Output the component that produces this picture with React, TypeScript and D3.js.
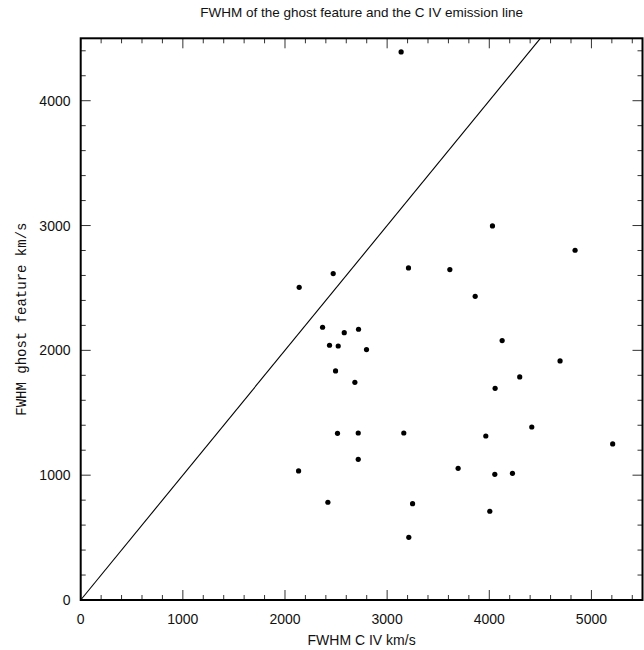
import React from "react";
import * as d3 from "d3";

const civFwhm = [3137, 4031, 4840, 3209, 3614, 2472, 2139, 3862, 2368, 2720, 2580, 4126, 2436, 2521, 2798, 4693, 2495, 4298, 2684, 4057, 4416, 2514, 2717, 3163, 3966, 5208, 2717, 3695, 2133, 4054, 4227, 2420, 3249, 4005, 3212];
const ghostFwhm = [4391, 2997, 2802, 2660, 2647, 2615, 2505, 2433, 2185, 2169, 2142, 2078, 2041, 2035, 2006, 1915, 1835, 1787, 1744, 1696, 1386, 1335, 1338, 1338, 1314, 1250, 1127, 1055, 1034, 1007, 1015, 783, 772, 711, 502];
const xMajorTicks = [0, 1000, 2000, 3000, 4000, 5000];
const yMajorTicks = [0, 1000, 2000, 3000, 4000];

const W = 644, H = 650;
const L = 80.7, R = 642.5, T = 38.3, B = 600;

export default function App() {
  const x = d3.scaleLinear().domain([0, 5500]).range([L, R]);
  const y = d3.scaleLinear().domain([0, 4500]).range([B, T]);
  const xMinor = d3.range(0, 5501, 200).filter((v) => v % 1000 !== 0);
  const yMinor = d3.range(0, 4501, 200).filter((v) => v % 1000 !== 0);
  const font = "'Liberation Sans', Arial, Helvetica, sans-serif";
  const diag = d3.line<number>().x((d) => x(d)).y((d) => y(d))([0, 4500]);
  return (
    <svg width={W} height={H} style={{ position: "absolute", left: 0, top: 0, background: "#fff" }}>
      <text x={(L + R) / 2} y={17} textAnchor="middle" fontFamily={font} fontSize={13.5} fill="#111">
        FWHM of the ghost feature and the C IV emission line
      </text>
      {/* ticks */}
      <g stroke="#333" strokeWidth={1}>
        {xMajorTicks.map((v) => (
          <g key={"xM" + v}>
            <line x1={x(v)} x2={x(v)} y1={B} y2={B - 10} />
            <line x1={x(v)} x2={x(v)} y1={T} y2={T + 10} />
          </g>
        ))}
        {xMinor.map((v) => (
          <g key={"xm" + v}>
            <line x1={x(v)} x2={x(v)} y1={B} y2={B - 5} />
            <line x1={x(v)} x2={x(v)} y1={T} y2={T + 5} />
          </g>
        ))}
        {yMajorTicks.map((v) => (
          <g key={"yM" + v}>
            <line x1={L} x2={L + 10} y1={y(v)} y2={y(v)} />
            <line x1={R} x2={R - 10} y1={y(v)} y2={y(v)} />
          </g>
        ))}
        {yMinor.map((v) => (
          <g key={"ym" + v}>
            <line x1={L} x2={L + 5} y1={y(v)} y2={y(v)} />
            <line x1={R} x2={R - 5} y1={y(v)} y2={y(v)} />
          </g>
        ))}
      </g>
      <rect x={L} y={T} width={R - L} height={B - T} fill="none" stroke="#000" strokeWidth={2} />
      <path d={diag || ""} stroke="#000" strokeWidth={1.1} fill="none" />
      {civFwhm.map((v, i) => (
        <circle key={i} cx={x(v)} cy={y(ghostFwhm[i])} r={2.6} fill="#000" />
      ))}
      {xMajorTicks.map((v) => (
        <text key={"xl" + v} x={x(v)} y={624} textAnchor="middle" fontFamily={font} fontSize={14} fill="#111">
          {v}
        </text>
      ))}
      {yMajorTicks.map((v) => (
        <text key={"yl" + v} x={70.5} y={y(v) + 5} textAnchor="end" fontFamily={font} fontSize={14} fill="#111">
          {v}
        </text>
      ))}
      <text x={(L + R) / 2} y={645} textAnchor="middle" fontFamily={font} fontSize={14} fill="#111">
        FWHM C IV km/s
      </text>
      <text
        transform={`translate(26, ${(T + B) / 2}) rotate(-90)`}
        textAnchor="middle"
        fontFamily="'Liberation Mono', 'Courier New', monospace"
        fontSize={14}
        fill="#111"
      >
        FWHM ghost feature km/s
      </text>
    </svg>
  );
}
